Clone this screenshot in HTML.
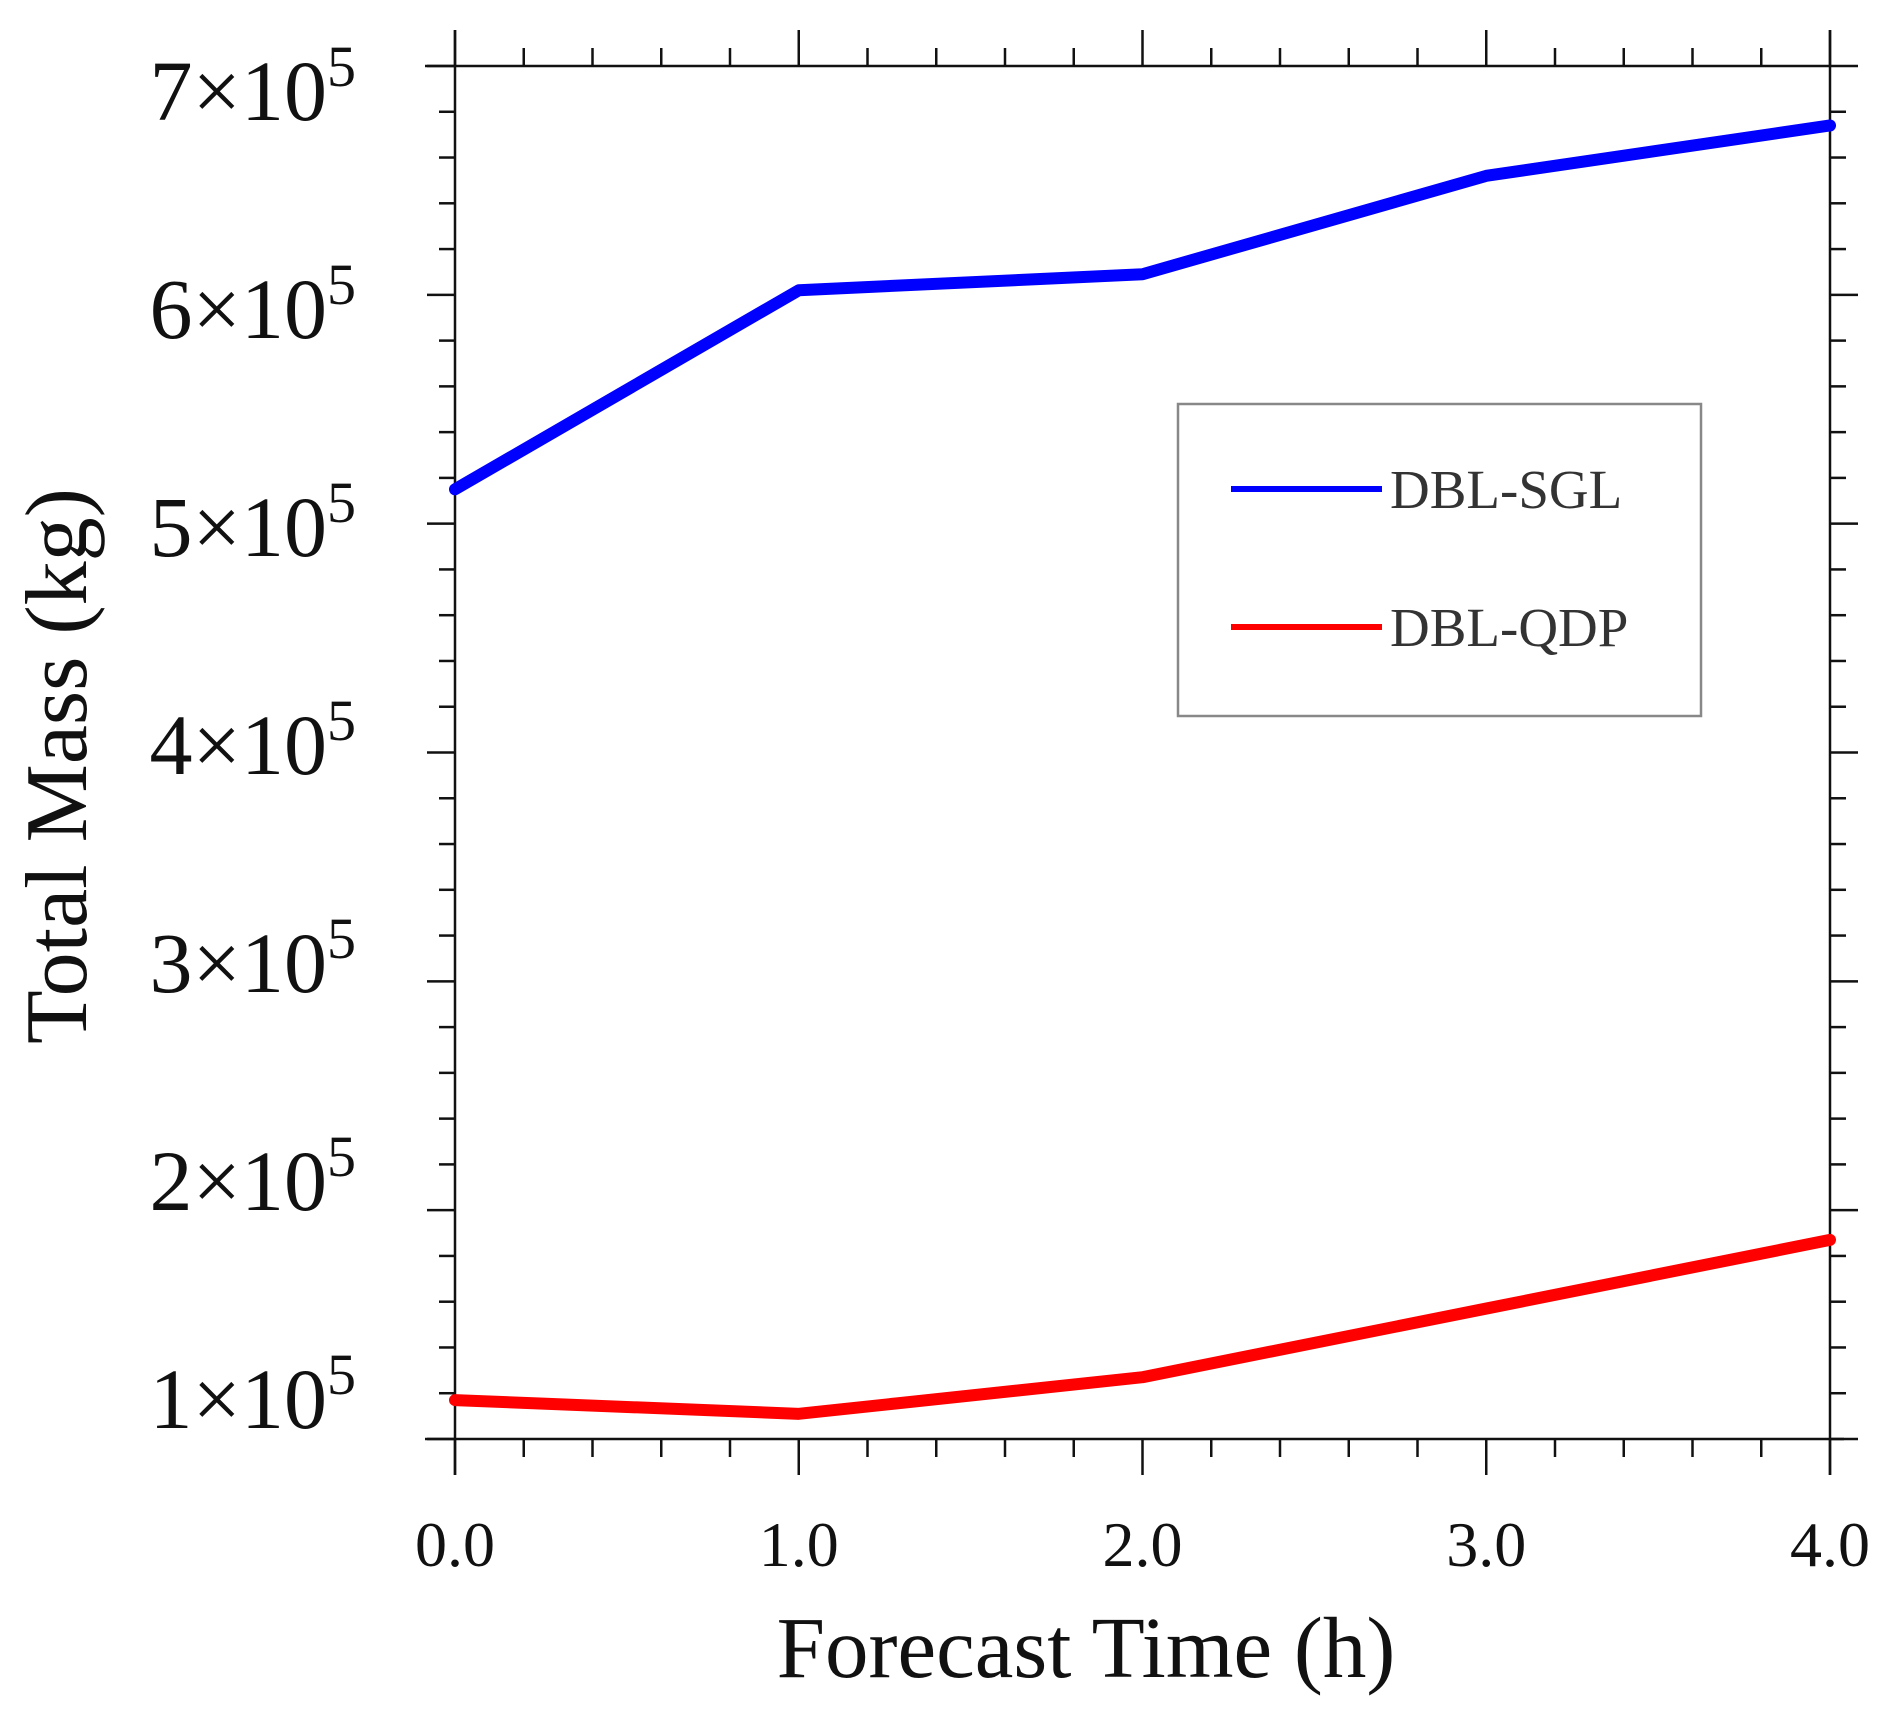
<!DOCTYPE html>
<html><head><meta charset="utf-8"><style>
html,body{margin:0;padding:0;background:#fff;}
svg{display:block;}
</style></head><body>
<svg id="chart" width="1892" height="1714" viewBox="0 0 1892 1714" xmlns="http://www.w3.org/2000/svg">
<g id="axes"></g>
<g id="series"></g>
<text x="1086" y="1677" text-anchor="middle" font-family="Liberation Serif, serif" font-size="87" fill="#111">Forecast Time (h)</text>
<text transform="translate(86,766) rotate(-90)" text-anchor="middle" font-family="Liberation Serif, serif" font-size="88" fill="#111">Total Mass (kg)</text>
<g>
<rect x="1178" y="404" width="523" height="312" fill="#fff" stroke="#888" stroke-width="2.5"/>
<line x1="1231" y1="489" x2="1382" y2="489" stroke="#0000ff" stroke-width="6"/>
<text x="1390" y="508" font-family="Liberation Serif, serif" font-size="55" fill="#333">DBL-SGL</text>
<line x1="1231" y1="627" x2="1382" y2="627" stroke="#ff0000" stroke-width="6"/>
<text x="1390" y="646" font-family="Liberation Serif, serif" font-size="55" fill="#333">DBL-QDP</text>
</g>
</svg>
<script>
const xValues = [0, 1, 2, 3, 4];
const xTickLabels = ["0.0", "1.0", "2.0", "3.0", "4.0"];
const yTicks = [1, 2, 3, 4, 5, 6, 7];
const yTickLabels = ["1", "2", "3", "4", "5", "6", "7"];
const dblSgl = [5.15, 6.02, 6.09, 6.52, 6.74];
const dblQdp = [1.17, 1.11, 1.27, 1.57, 1.87];

const NS = "http://www.w3.org/2000/svg";
const L = 455, R = 1830, T = 66, B = 1439;
const xMin = 0, xMax = 4, yMin = 1, yMax = 7;
const xs = v => L + (v - xMin) / (xMax - xMin) * (R - L);
const ys = v => B - (v - yMin) / (yMax - yMin) * (B - T);
// tick labels in the original are spaced slightly tighter than the ticks
const yLabel = v => 90 + (yMax - v) * 218;
function mk(tag, attrs, parent) {
  const e = document.createElementNS(NS, tag);
  for (const k in attrs) e.setAttribute(k, attrs[k]);
  parent.appendChild(e);
  return e;
}
const axes = document.getElementById('axes');
const series = document.getElementById('series');
const ax = {stroke: '#111', 'stroke-width': 2.5};
let f = mk('line', Object.assign({x1: L - 30, y1: T, x2: R, y2: T}, ax), axes);
 
f = mk('line', Object.assign({x1: L - 30, y1: B, x2: R + 14, y2: B}, ax), axes);
 
f = mk('line', Object.assign({x1: L, y1: T - 36, x2: L, y2: B + 36}, ax), axes);
 
f = mk('line', Object.assign({x1: R, y1: T - 36, x2: R, y2: B + 36}, ax), axes);
 
for (let i = 0; i <= (xMax - xMin) * 5; i++) {
  const v = xMin + i / 5, x = xs(v), major = i % 5 === 0, len = major ? 36 : 18;
  let t = mk('line', Object.assign({x1: x, y1: T, x2: x, y2: T - len}, ax), axes);
   
  t = mk('line', Object.assign({x1: x, y1: B, x2: x, y2: B + len}, ax), axes);
   
}
xValues.forEach((v, i) => {
  const t = mk('text', {x: xs(v), y: 1566, 'text-anchor': 'middle', 'font-family': 'Liberation Serif, serif', 'font-size': 64, fill: '#111'}, axes);
   
  t.textContent = xTickLabels[i];
});
for (let i = 0; i <= (yMax - yMin) * 5; i++) {
  const v = yMin + i / 5, y = ys(v), major = i % 5 === 0, len = major ? 28 : 16;
  let t = mk('line', Object.assign({x1: L, y1: y, x2: L - len, y2: y}, ax), axes);
   
  t = mk('line', Object.assign({x1: R, y1: y, x2: R + len, y2: y}, ax), axes);
   
}
yTicks.forEach((v, i) => {
  const t = mk('text', {x: 356, y: yLabel(v) + 30, 'text-anchor': 'end', 'font-family': 'Liberation Serif, serif', 'font-size': 86, fill: '#111'}, axes);
   
  t.textContent = yTickLabels[i] + '\u00d710';
  const s = mk('tspan', {dy: -34, 'font-size': 58}, t);
  s.textContent = '5';
});
function drawLine(vals, color, name) {
  const pts = vals.map((v, i) => xs(xValues[i]) + ',' + ys(v)).join(' ');
  const p = mk('polyline', {points: pts, fill: 'none', stroke: color, 'stroke-width': 12, 'stroke-linejoin': 'round', 'stroke-linecap': 'round'}, series);
   
}
drawLine(dblSgl, '#0000ff', 'line-dbl-sgl');
drawLine(dblQdp, '#ff0000', 'line-dbl-qdp');
</script>
</body></html>
